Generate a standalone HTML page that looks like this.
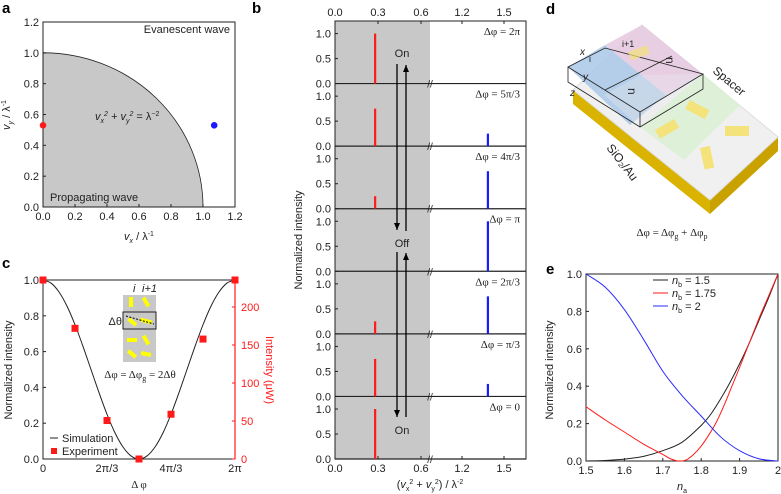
<!DOCTYPE html>
<html><head><meta charset="utf-8">
<style>
html,body{margin:0;padding:0;background:#fff;}
svg{display:block;font-family:"Liberation Sans",sans-serif;}
.t{font-size:11px;fill:#222;}
.lab{font-size:15px;font-weight:bold;fill:#000;}
</style></head>
<body>
<svg id="fig" width="781" height="494" viewBox="0 0 781 494" xmlns="http://www.w3.org/2000/svg">
<g id="pa"></g>
<g id="pb"></g>
<g id="pc"></g>
<g id="pd">
  <text class="lab" x="546" y="14">d</text>
  <polygon points="573,90 710,200 710,214 573,104" fill="#d9b300"/>
  <polygon points="710,200 778,137 778,151 710,214" fill="#c9a200"/>
  <polygon points="573,90 642,25 778,137 710,200" fill="#f0f0f0" stroke="#ddd"/>
  <polygon points="640,127 703,74 740,105 684,160" fill="#dcefd4" opacity="0.9"/>
  <polygon points="568,67 605,45 666,95 630,125" fill="#a9c8e8" opacity="0.85"/>
  <polygon points="605,45 642,25 703,74 666,95" fill="#e6c8e0" opacity="0.85"/>
  <polygon points="604,95 640,75 703,74 640,127" fill="#e8e8ee" opacity="0.35"/>
  <polyline points="568,67 605,48 703,74 640,112 568,67 568,82 640,127 703,89 703,74" fill="none" stroke="#222" stroke-width="0.8"/>
  <line x1="640" y1="112" x2="640" y2="127" stroke="#222" stroke-width="0.8"/>
  <line x1="605" y1="90" x2="672" y2="56" stroke="#222" stroke-width="0.8"/>
  <text x="622" y="47" font-size="9" fill="#222">i+1</text>
  <text x="589" y="62" font-size="9" fill="#222">i</text>
  <text x="628" y="88" font-size="12" fill="#222" transform="rotate(90 628 88)">n</text>
  <text x="666" y="57" font-size="12" fill="#222" transform="rotate(90 666 57)">n</text>
  <text x="580" y="55" font-size="10" font-style="italic" fill="#222">x</text>
  <text x="583" y="80" font-size="10" font-style="italic" fill="#222">y</text>
  <text x="570" y="96" font-size="10" font-style="italic" fill="#222">z</text>
  <rect x="690" y="100" width="22" height="10" fill="#f4e27a" transform="rotate(28 690 100)"/>
  <rect x="655" y="130" width="22" height="10" fill="#f4e27a" transform="rotate(-30 655 130)"/>
  <rect x="725" y="126" width="24" height="10" fill="#f4e27a"/>
  <rect x="700" y="148" width="10" height="22" fill="#f4e27a" transform="rotate(-12 700 148)"/>
  <rect x="628" y="52" width="20" height="9" fill="#f4e27a" opacity="0.7" transform="rotate(-20 628 52)"/>
  <text x="712" y="72" font-size="12" fill="#222" transform="rotate(40 712 72)">Spacer</text>
  <text x="606" y="148" font-size="12" fill="#222" transform="rotate(52 606 148)">SiO₂/Au</text>
  <text x="672" y="236" font-size="11" fill="#222" text-anchor="middle" font-family="Liberation Serif">Δφ = Δφ<tspan font-size="8" dy="3">g</tspan><tspan dy="-3"> + Δφ</tspan><tspan font-size="8" dy="3">p</tspan></text>
</g>
<g id="pe"></g>
</svg>
<script>
// ---- Panel a data
const aDotsX = [0.0, 1.07];
const aDotsY = [0.53, 0.53];
const aDotColors = ["#ff1a1a", "#1a1aff"];
const aTicks = [0.0, 0.2, 0.4, 0.6, 0.8, 1.0, 1.2];
// ---- Panel b data
const bLabels = ["Δφ = 2π","Δφ = 5π/3","Δφ = 4π/3","Δφ = π","Δφ = 2π/3","Δφ = π/3","Δφ = 0"];
const bRed = [1.0, 0.75, 0.25, 0.0, 0.25, 0.75, 1.0];
const bBlue = [0.0, 0.25, 0.75, 1.0, 0.75, 0.25, 0.0];
const bRedPos = 0.28;
const bBluePos = 1.385;
const bTicksLeft = [0.0, 0.3, 0.6];
const bTicksRight = [1.2, 1.5];
// ---- Panel c data
const cPhase = [0, 1, 2, 3, 4, 5, 6]; // in units of π/3
const cExp = [1.0, 0.73, 0.215, 0.0, 0.25, 0.67, 1.0];
const cSimX = [0,0.25,0.5,0.75,1,1.25,1.5,1.75,2,2.25,2.5,2.75,3,3.25,3.5,3.75,4,4.25,4.5,4.75,5,5.25,5.5,5.75,6];
const cSimY = [1,0.983,0.933,0.854,0.75,0.629,0.5,0.371,0.25,0.146,0.067,0.017,0,0.017,0.067,0.146,0.25,0.371,0.5,0.629,0.75,0.854,0.933,0.983,1];
const cXTickLabels = ["0","2π/3","4π/3","2π"];
const cYTicks = [0.0,0.2,0.4,0.6,0.8,1.0];
const cRTicks = [0,50,100,150,200];
// ---- Panel e data
const eBlackX = [1.5,1.55,1.6,1.65,1.7,1.75,1.8,1.825,1.85,1.875,1.9,1.925,1.95,1.975,2.0];
const eBlack = [0,0.003,0.01,0.025,0.055,0.1,0.19,0.25,0.33,0.42,0.52,0.63,0.75,0.87,1.0];
const eRedX = [1.5,1.55,1.6,1.65,1.7,1.72,1.74,1.76,1.78,1.8,1.82,1.84,1.86,1.88,1.9,1.925,1.95,1.975,2.0];
const eRed = [0.29,0.22,0.155,0.09,0.035,0.012,0.0,0.005,0.035,0.08,0.14,0.21,0.3,0.4,0.5,0.63,0.76,0.88,1.0];
const eBlueX = [1.5,1.55,1.6,1.65,1.7,1.75,1.8,1.85,1.9,1.95,2.0];
const eBlue = [1.0,0.93,0.81,0.65,0.48,0.35,0.24,0.13,0.055,0.012,0.0];
const eTicks = [1.5,1.6,1.7,1.8,1.9,2.0];
const eYTicks = [0.0,0.2,0.4,0.6,0.8,1.0];

const NS="http://www.w3.org/2000/svg";
function mk(parent, tag, attrs, txt){const e=document.createElementNS(NS,tag);for(const k in attrs)e.setAttribute(k,attrs[k]);if(txt!==undefined)e.textContent=txt;parent.appendChild(e);return e;}
function smoothPath(pts){
 let d=`M${pts[0][0]},${pts[0][1]}`;
 for(let i=0;i<pts.length-1;i++){
  const p0=pts[Math.max(0,i-1)],p1=pts[i],p2=pts[i+1],p3=pts[Math.min(pts.length-1,i+2)];
  const c1=[p1[0]+(p2[0]-p0[0])/6,p1[1]+(p2[1]-p0[1])/6];
  const c2=[p2[0]-(p3[0]-p1[0])/6,p2[1]-(p3[1]-p1[1])/6];
  d+=` C${c1[0]},${c1[1]} ${c2[0]},${c2[1]} ${p2[0]},${p2[1]}`;
 }
 return d;
}

// ===== Panel a
(function(){
const g=document.getElementById('pa');
const X=v=>43+v/1.2*192, Y=v=>207-v/1.2*185;
let e=mk(g,'text',{class:'lab',x:2,y:13},'a');


let d=`M${X(0)},${Y(0)} L${X(0)},${Y(1)} A${X(1)-X(0)},${Y(0)-Y(1)} 0 0 1 ${X(1)},${Y(0)} Z`;
e=mk(g,'path',{d:d,fill:'#c8c8c8',stroke:'#222','stroke-width':0.8});


e=mk(g,'rect',{x:X(0),y:Y(1.2),width:X(1.2)-X(0),height:Y(0)-Y(1.2),fill:'none',stroke:'#222','stroke-width':1});


aTicks.forEach(v=>{
 e=mk(g,'text',{class:'t',x:X(v),y:Y(0)+13,'text-anchor':'middle'},v.toFixed(1));
 
 
 e=mk(g,'text',{class:'t',x:X(0)-4,y:Y(v)+4,'text-anchor':'end'},v.toFixed(1));
 
 
 mk(g,'line',{x1:X(v),x2:X(v),y1:Y(0),y2:Y(0)-3,stroke:'#222'});
 mk(g,'line',{x1:X(0),x2:X(0)+3,y1:Y(v),y2:Y(v),stroke:'#222'});
});
aDotsX.forEach((v,i)=>{
 e=mk(g,'circle',{cx:X(v),cy:Y(aDotsY[i]),r:3.3,fill:aDotColors[i]});
 
 
});
e=mk(g,'text',{class:'t',x:230,y:33,'text-anchor':'end'},'Evanescent wave');


e=mk(g,'text',{class:'t',x:50,y:201},'Propagating wave');


e=mk(g,'text',{class:'t',x:95,y:120,'font-style':'italic'});
e.innerHTML='v<tspan font-size="7" dy="3">x</tspan><tspan font-size="7" dy="-7">2</tspan><tspan dy="4"> + v</tspan><tspan font-size="7" dy="3">y</tspan><tspan font-size="7" dy="-7">2</tspan><tspan dy="4" font-style="normal"> = λ</tspan><tspan font-size="7" dy="-4" font-style="normal">−2</tspan>';


e=mk(g,'text',{class:'t',x:139,y:240,'text-anchor':'middle','font-style':'italic'});
e.innerHTML='v<tspan font-size="7" dy="3">x</tspan><tspan dy="-3" font-style="normal"> / λ</tspan><tspan font-size="7" dy="-4" font-style="normal">-1</tspan>';


e=mk(g,'text',{class:'t',x:10,y:115,'text-anchor':'middle','font-style':'italic',transform:'rotate(-90 10 115)'});
e.innerHTML='v<tspan font-size="7" dy="3">y</tspan><tspan dy="-3" font-style="normal"> / λ</tspan><tspan font-size="7" dy="-4" font-style="normal">-1</tspan>';


})();

// ===== Panel b
(function(){
const g=document.getElementById('pb');
const L=335,R=526,BRK=430,TOP=21,BOT=459,H=(BOT-TOP)/7;
const XL=v=>L+v/0.3*43, XR=v=>462+(v-1.2)/0.3*42;
const X=v=>v<0.9?XL(v):XR(v);
let e=mk(g,'text',{class:'lab',x:252,y:13},'b');


e=mk(g,'rect',{x:L,y:TOP,width:BRK-L,height:BOT-TOP,fill:'#c8c8c8'});


e=mk(g,'rect',{x:L,y:TOP,width:R-L,height:BOT-TOP,fill:'none',stroke:'#222','stroke-width':1});


bLabels.forEach((lab,i)=>{
 const base=TOP+H*(i+1), Y=v=>base-v*50;
 mk(g,'line',{x1:L,x2:R,y1:base,y2:base,stroke:'#222','stroke-width':1.2});
 [0,0.5,1].forEach(v=>{
  e=mk(g,'text',{class:'t',x:L-4,y:Y(v)+4,'text-anchor':'end'},v.toFixed(1));
  
  
  mk(g,'line',{x1:L,x2:L+3,y1:Y(v),y2:Y(v),stroke:'#222'});
 });
 e=mk(g,'line',{x1:X(bRedPos),x2:X(bRedPos),y1:base,y2:Y(bRed[i]),stroke:'#ff1a1a','stroke-width':2.2});
 
 
 e=mk(g,'line',{x1:X(bBluePos),x2:X(bBluePos),y1:base,y2:Y(bBlue[i]),stroke:'#1a1aff','stroke-width':2.2});
 
 
 e=mk(g,'text',{x:520,y:TOP+H*i+14,'text-anchor':'end','font-size':11,fill:'#222','font-family':'Liberation Serif'},lab);
 
 
 e=mk(g,'text',{x:BRK,y:base+4,'text-anchor':'middle','font-size':10,fill:'#222'},'//');
 
 
});
bTicksLeft.concat(bTicksRight).forEach(v=>{
 [[TOP-5,TOP,TOP+3],[BOT+13,BOT,BOT-3]].forEach(([ty,y1,y2])=>{
  e=mk(g,'text',{class:'t',x:X(v),y:ty,'text-anchor':'middle'},v.toFixed(1));
  
  
  mk(g,'line',{x1:X(v),x2:X(v),y1:y1,y2:y2,stroke:'#222'});
 });
});
function arrow(x,y1,y2,name){
 e=mk(g,'line',{x1:x,x2:x,y1:y1,y2:y2,stroke:'#000','stroke-width':1.3});
 
 
 const d=y2>y1?1:-1;
 mk(g,'polygon',{points:`${x-3},${y2-d*7} ${x+3},${y2-d*7} ${x},${y2}`,fill:'#000'});
}
arrow(397,64,230,'off-arrow-down');arrow(406,231,65,'on-arrow-up');
arrow(397,252,417,'on-arrow-down');arrow(406,417,253,'off-arrow-up');
[['On',57],['Off',247],['On',434]].forEach(([t,y])=>{
 e=mk(g,'text',{class:'t',x:402,y:y,'text-anchor':'middle'},t);
 
 
});
e=mk(g,'text',{class:'t',x:302,y:240,'text-anchor':'middle',transform:'rotate(-90 302 240)'},'Normalized intensity');


e=mk(g,'text',{class:'t',x:430,y:488,'text-anchor':'middle'});
e.innerHTML='(<tspan font-style="italic">v</tspan><tspan font-size="7" dy="3">x</tspan><tspan font-size="7" dy="-7">2</tspan><tspan dy="4"> + </tspan><tspan font-style="italic">v</tspan><tspan font-size="7" dy="3">y</tspan><tspan font-size="7" dy="-7">2</tspan><tspan dy="4">) / λ</tspan><tspan font-size="7" dy="-4">-2</tspan>';


})();

// ===== Panel c
(function(){
const g=document.getElementById('pc');
const X=v=>43+v/6*192, Y=v=>459-v*179, YR=v=>459-v/200*152;
let e=mk(g,'text',{class:'lab',x:2,y:268},'c');


e=mk(g,'rect',{x:X(0),y:Y(1),width:192,height:179,fill:'none',stroke:'#222','stroke-width':1});


mk(g,'line',{x1:X(6),x2:X(6),y1:Y(1),y2:Y(0),stroke:'#ff1a1a','stroke-width':1.2});
cYTicks.forEach(v=>{
 e=mk(g,'text',{class:'t',x:X(0)-4,y:Y(v)+4,'text-anchor':'end'},v.toFixed(1));
 
 
 mk(g,'line',{x1:X(0),x2:X(0)+3,y1:Y(v),y2:Y(v),stroke:'#222'});
});
cRTicks.forEach(v=>{
 e=mk(g,'text',{class:'t',x:X(6)+6,y:YR(v)+4,style:'fill:#ff1a1a'},String(v));
 
 
 mk(g,'line',{x1:X(6),x2:X(6)-3,y1:YR(v),y2:YR(v),stroke:'#ff1a1a'});
});
cXTickLabels.forEach((t,i)=>{
 e=mk(g,'text',{class:'t',x:X(i*2),y:Y(0)+13,'text-anchor':'middle'},t);
 
 
});
e=mk(g,'path',{d:smoothPath(cSimX.map((v,i)=>[X(v),Y(cSimY[i])])),fill:'none',stroke:'#222','stroke-width':1});


cPhase.forEach((v,i)=>{
 e=mk(g,'rect',{x:X(v)-3.5,y:Y(cExp[i])-3.5,width:7,height:7,fill:'#ff1a1a'});
 
 
});
e=mk(g,'rect',{x:123,y:295,width:33,height:67,fill:'#c8c8c8'});


[[131,302,0],[146,302,-30],[132,340,90],[146,340,-30],[132,354,-50],[146,354,-80]].forEach(([x,y,a])=>{
 mk(g,'rect',{x:x-2,y:y-5,width:4,height:10,fill:'#ffff00',transform:`rotate(${a} ${x} ${y})`});
});
mk(g,'rect',{x:128,y:318,width:4,height:10,fill:'#ffff00',transform:'rotate(-50 130 320)'});
mk(g,'rect',{x:144,y:315,width:4,height:12,fill:'#ffff00',transform:'rotate(-75 146 321)'});
e=mk(g,'rect',{x:123,y:312,width:33,height:17,fill:'none',stroke:'#222','stroke-width':1});


mk(g,'line',{x1:126,y1:316,x2:154,y2:324,stroke:'#000','stroke-dasharray':'2,1.5'});
e=mk(g,'text',{class:'t',x:122,y:325,'text-anchor':'end'},'Δθ');


e=mk(g,'text',{class:'t',x:133,y:292,'font-style':'italic'},'i');


e=mk(g,'text',{class:'t',x:142,y:292,'font-style':'italic'},'i+1');


e=mk(g,'text',{x:140,y:378,'text-anchor':'middle','font-size':11,fill:'#222','font-family':'Liberation Serif'});
e.innerHTML='Δφ = Δφ<tspan font-size="8" dy="3">g</tspan><tspan dy="-3"> = 2Δθ</tspan>';


mk(g,'line',{x1:50,x2:58,y1:438,y2:438,stroke:'#222'});
e=mk(g,'text',{class:'t',x:62,y:442},'Simulation');


mk(g,'rect',{x:51,y:448,width:6,height:6,fill:'#ff1a1a'});
e=mk(g,'text',{class:'t',x:62,y:455},'Experiment');


e=mk(g,'text',{x:139,y:488,'text-anchor':'middle','font-size':11,fill:'#222','font-family':'Liberation Serif'},'Δ φ');


e=mk(g,'text',{class:'t',x:12,y:370,'text-anchor':'middle',transform:'rotate(-90 12 370)'},'Normalized intensity');


e=mk(g,'text',{class:'t',x:266,y:370,'text-anchor':'middle',style:'fill:#ff1a1a',transform:'rotate(90 266 370)'},'Intensity (μW)');


})();

// ===== Panel e
(function(){
const g=document.getElementById('pe');
const X=v=>586+(v-1.5)/0.5*192, Y=v=>461-v*187;
let e=mk(g,'text',{class:'lab',x:546,y:274},'e');


e=mk(g,'rect',{x:X(1.5),y:Y(1),width:192,height:187,fill:'none',stroke:'#222','stroke-width':1});


eTicks.forEach(v=>{
 e=mk(g,'text',{class:'t',x:X(v),y:Y(0)+13,'text-anchor':'middle'},v===2?'2':v.toFixed(1));
 
 
 mk(g,'line',{x1:X(v),x2:X(v),y1:Y(0),y2:Y(0)-3,stroke:'#222'});
});
eYTicks.forEach(v=>{
 e=mk(g,'text',{class:'t',x:X(1.5)-4,y:Y(v)+4,'text-anchor':'end'},v.toFixed(1));
 
 
 mk(g,'line',{x1:X(1.5),x2:X(1.5)+3,y1:Y(v),y2:Y(v),stroke:'#222'});
});
[[eBlackX,eBlack,'#222','nb-1.5-line'],[eRedX,eRed,'#ff1a1a','nb-1.75-line'],[eBlueX,eBlue,'#2a2aff','nb-2-line']].forEach(([xs,arr,c,n])=>{
 e=mk(g,'path',{d:smoothPath(xs.map((v,i)=>[X(v),Y(arr[i])])),fill:'none',stroke:c,'stroke-width':1});
 
 
});
[['1.5','#222',284],['1.75','#ff1a1a',297],['2','#2a2aff',310]].forEach(([t,c,y])=>{
 mk(g,'line',{x1:653,x2:668,y1:y-4,y2:y-4,stroke:c});
 e=mk(g,'text',{class:'t',x:672,y:y});
 e.innerHTML=`<tspan font-style="italic">n</tspan><tspan font-size="7" dy="3">b</tspan><tspan dy="-3"> = ${t}</tspan>`;
 
 
});
e=mk(g,'text',{class:'t',x:682,y:490,'text-anchor':'middle'});
e.innerHTML='<tspan font-style="italic">n</tspan><tspan font-size="7" dy="3">a</tspan>';


e=mk(g,'text',{class:'t',x:553,y:370,'text-anchor':'middle',transform:'rotate(-90 553 370)'},'Normalized intensity');


})();
</script>
</body></html>
